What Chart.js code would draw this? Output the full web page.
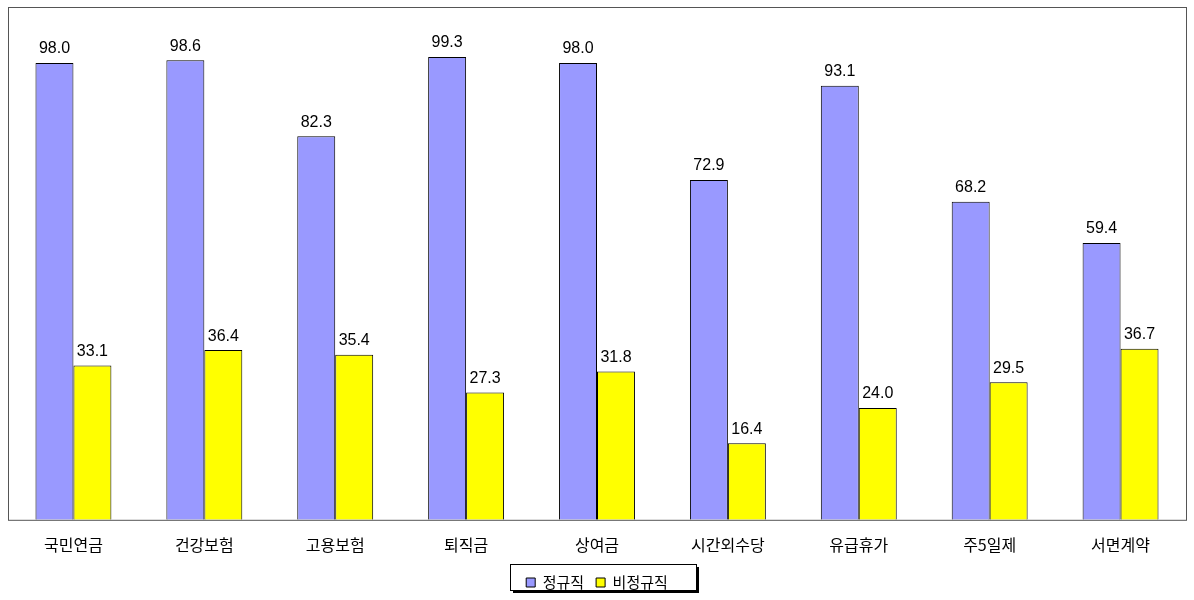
<!DOCTYPE html>
<html><head><meta charset="utf-8">
<script src="https://cdn.jsdelivr.net/npm/chart.js@4"></script>
<style>body{margin:0;background:#fff}#wrap{width:1194px;height:600px}</style>
</head><body><div id="wrap"><canvas id="c"></canvas></div>
<script>
const categories = ['국민연금', '건강보험', '고용보험', '퇴직금', '상여금', '시간외수당', '유급휴가', '주5일제', '서면계약'];
const regular = [98.0, 98.6, 82.3, 99.3, 98.0, 72.9, 93.1, 68.2, 59.4];
const irregular = [33.1, 36.4, 35.4, 27.3, 31.8, 16.4, 24.0, 29.5, 36.7];

// 막대 위 값 표시
const valueLabels = {
    id: 'valueLabels',
    afterDatasetsDraw(chart) {
        const ctx = chart.ctx;
        ctx.save();
        ctx.font = '16px "Liberation Sans", Arial, sans-serif';
        ctx.fillStyle = '#000';
        ctx.textAlign = 'center';
        ctx.textBaseline = 'bottom';
        chart.data.datasets.forEach((ds, i) => {
            chart.getDatasetMeta(i).data.forEach((bar, j) => {
                ctx.fillText(ds.data[j].toFixed(1), bar.x, bar.y - 6);
            });
        });
        ctx.restore();
    }
};

// 플롯 테두리와 범례 상자
function legendBox(chart) {
    const w = 186, h = 26;
    return { x: Math.round(chart.width / 2 - w / 2) + 6, y: chart.legend.top + 1, w, h };
}
const frames = {
    id: 'frames',
    beforeDraw(chart) {
        const ctx = chart.ctx, b = legendBox(chart);
        ctx.save();
        ctx.fillStyle = '#000';
        ctx.fillRect(b.x + 3, b.y + 3, b.w, b.h);
        ctx.fillStyle = '#fff';
        ctx.fillRect(b.x, b.y, b.w, b.h);
        ctx.restore();
    },
    afterDraw(chart) {
        const ctx = chart.ctx, a = chart.chartArea, b = legendBox(chart);
        ctx.save();
        ctx.strokeStyle = '#555';
        ctx.lineWidth = 1;
        ctx.strokeRect(a.left + 0.5, a.top + 0.5, a.right - a.left, a.bottom - a.top);
        ctx.strokeStyle = '#000';
        ctx.strokeRect(b.x + 0.5, b.y + 0.5, b.w, b.h);
        ctx.restore();
    }
};

new Chart(document.getElementById('c'), {
    type: 'bar',
    data: {
        labels: categories,
        datasets: [
            { label: '정규직', data: regular, backgroundColor: '#9999ff', borderColor: '#000', borderWidth: 1 },
            { label: '비정규직', data: irregular, backgroundColor: '#ffff00', borderColor: '#000', borderWidth: 1 }
        ]
    },
    options: {
        responsive: true,
        maintainAspectRatio: false,
        animation: false,
        layout: { padding: { left: 8, right: 8, top: 7, bottom: 0 } },
        datasets: { bar: { categoryPercentage: 0.58, barPercentage: 1 } },
        plugins: {
            legend: {
                position: 'bottom',
                labels: {
                    boxWidth: 9, boxHeight: 9, color: '#000', padding: 12,
                    font: { size: 15, family: '"Noto Sans CJK KR", sans-serif' }
                }
            },
            tooltip: { enabled: false }
        },
        scales: {
            x: {
                grid: { display: false },
                border: { display: false },
                ticks: { color: '#000', padding: 8, font: { size: 16, family: '"Noto Sans CJK KR", sans-serif' } }
            },
            y: {
                min: 0, max: 110,
                display: false
            }
        }
    },
    plugins: [valueLabels, frames]
});
</script></body></html>
